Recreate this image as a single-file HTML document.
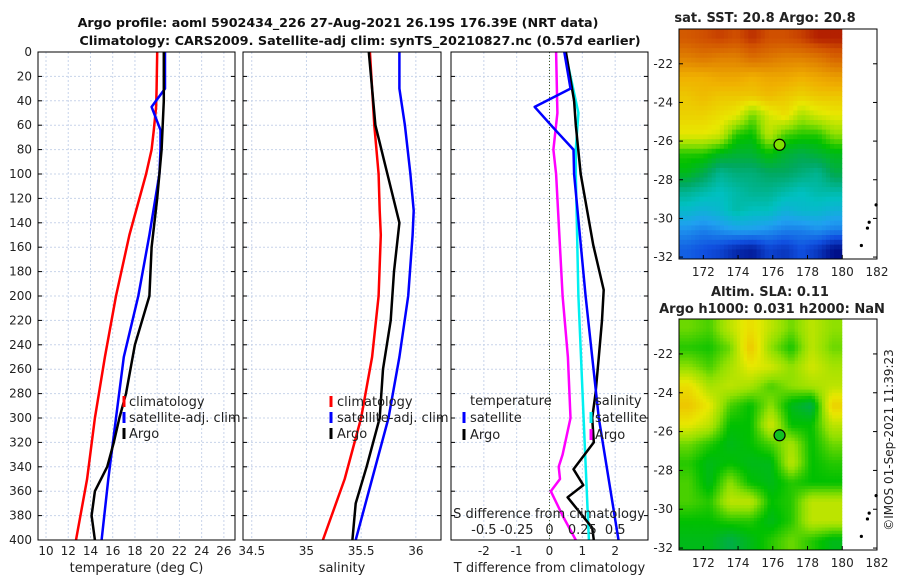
<!DOCTYPE html>
<html><head><meta charset="utf-8">
<style>
body{margin:0;background:#fff;}
svg{display:block;font-family:"DejaVu Sans","Liberation Sans",sans-serif;}
</style></head>
<body>
<svg id="c" width="900" height="580" viewBox="0 0 900 580"></svg>
<script>
// ---- data ----
const depthsT=[0,30,45,64,80,100,150,200,250,300,350,400];
const climT=[20.0,19.95,19.9,19.7,19.5,19.0,17.5,16.3,15.3,14.4,13.7,12.7];
const satT=[20.7,20.7,19.5,20.3,20.3,20.2,19.3,18.3,17.0,16.3,15.6,15.0];
const argoDepths=[0,40,80,120,160,200,240,280,300,320,340,360,380,400];
const argoT=[20.6,20.6,20.4,20.0,19.5,19.3,18.0,17.2,16.6,16.1,15.5,14.4,14.1,14.4];
const depthsS=[0,30,60,100,130,150,200,250,300,350,400];
const climS=[35.58,35.6,35.62,35.66,35.67,35.68,35.66,35.6,35.5,35.35,35.15];
const satS=[35.85,35.85,35.9,35.95,35.98,35.97,35.93,35.85,35.75,35.6,35.45];
const argoSDepths=[0,30,60,100,140,180,220,260,300,340,370,400];
const argoS=[35.57,35.6,35.63,35.74,35.85,35.8,35.77,35.7,35.67,35.55,35.45,35.42];
const dTdepths=[0,30,45,64,80,100,200,300,400];
const satDT=[0.45,0.64,-0.45,0.18,0.73,0.75,1.1,1.5,2.1];
const argoDTdepths=[0,40,60,100,158,195,220,250,280,300,320,342,355,365,390,400];
const argoDT=[0.5,0.75,0.8,0.95,1.33,1.65,1.6,1.5,1.4,1.3,1.35,0.73,1.03,0.55,1.3,1.35];
const dSdepths=[0,50,80,100,200,300,400];
const satDS=[0.12,0.22,0.2,0.2,0.22,0.26,0.3];
const argoDSdepths=[0,50,80,100,200,250,300,330,340,350,360,380,400];
const argoDS=[0.05,0.06,0.03,0.05,0.1,0.14,0.16,0.1,0.07,0.08,0.01,0.1,0.2];
const depthTicks=[0,20,40,60,80,100,120,140,160,180,200,220,240,260,280,300,320,340,360,380,400];
const tTicks=[10,12,14,16,18,20,22,24,26];
const sTicks=[34.5,35,35.5,36];
const sTickLabels=["34.5","35","35.5","36"];
const dtTicks=[-2,-1,0,1,2];
const dsTicks=[-0.5,-0.25,0,0.25,0.5];
const dsTickLabels=["-0.5","-0.25","0","0.25","0.5"];
const lonTicks=[172,174,176,178,180,182];
const latTicks=[-22,-24,-26,-28,-30,-32];
const sstGrid=[
[22.4,22.5,22.6,22.5,22.7,22.5,22.5,22.6,22.8,22.8],
[22.0,22.1,22.0,22.0,22.2,22.1,22.0,22.0,22.1,22.3],
[21.5,21.5,21.6,21.6,21.5,21.6,21.6,21.5,21.6,21.7],
[21.3,21.4,21.3,21.3,21.3,21.4,21.3,21.2,21.3,21.3],
[21.2,21.2,21.1,21.0,20.5,20.9,21.1,20.7,20.9,21.0],
[21.0,21.0,20.9,20.3,20.2,20.8,20.4,20.3,20.3,20.6],
[20.3,20.3,20.1,20.0,20.0,20.2,20.0,19.9,20.0,20.1],
[20.1,19.9,19.6,19.7,19.7,19.8,19.8,19.7,19.6,19.9],
[19.6,19.5,19.4,19.5,19.6,19.6,19.5,19.4,19.5,19.5],
[19.3,19.2,19.3,19.5,19.4,19.4,19.2,19.3,19.3,19.2],
[18.9,18.8,18.9,19.0,19.0,18.9,18.8,18.8,18.9,18.8],
[18.6,18.5,18.4,18.2,18.1,18.4,18.3,18.5,18.3,18.0]];
const slaGrid=[
[20.5,20.4,20.8,21.1,20.8,20.5,20.8,20.6],
[20.3,20.25,20.5,21.3,20.6,20.25,20.8,20.5],
[20.6,20.4,20.7,21.0,20.9,20.6,20.9,20.7],
[21.1,20.7,20.8,20.7,20.4,20.6,20.7,20.8],
[21.3,21.0,20.4,20.2,20.6,20.1,19.9,21.2],
[21.0,20.8,20.2,20.2,20.9,20.2,20.2,20.8],
[20.5,20.3,20.1,20.2,20.4,20.7,20.2,20.5],
[20.3,20.1,20.2,20.1,20.1,20.8,20.2,20.3],
[20.4,20.1,20.6,20.2,20.1,20.3,20.2,20.2],
[20.4,20.3,20.8,20.8,20.2,20.3,20.8,20.8],
[20.2,20.2,20.3,20.3,20.1,20.3,20.8,20.8],
[20.1,20.1,19.9,20.1,20.3,20.5,20.3,20.1]];

const NS="http://www.w3.org/2000/svg";
const svg=document.getElementById('c');
function el(tag,attrs,parent,txt){const e=document.createElementNS(NS,tag);for(const k in attrs)e.setAttribute(k,attrs[k]);if(txt!==undefined)e.textContent=txt;(parent||svg).appendChild(e);return e;}
const Y0=52,Y1=540;
const yD=d=>Y0+d*(Y1-Y0)/400;
function axX(a,b,l,r){return v=>l+(v-a)*(r-l)/(b-a);}
function panel(name){
  const g=el('g',{},svg);
  return g;}
function grid(g,l,r,xs,xf){
  for(const d of depthTicks){el('line',{x1:l,x2:r,y1:yD(d),y2:yD(d),stroke:'#c8d4ea','stroke-dasharray':'2,2','stroke-width':1},g);}
  for(const v of xs){el('line',{x1:xf(v),x2:xf(v),y1:Y0,y2:Y1,stroke:'#c8d4ea','stroke-dasharray':'2,2','stroke-width':1},g);}
}
function frame(g,l,r){el('rect',{x:l,y:Y0,width:r-l,height:Y1-Y0,fill:'none',stroke:'#000','stroke-width':1},g);
  for(const d of depthTicks){el('line',{x1:l,x2:l+4,y1:yD(d),y2:yD(d),stroke:'#000'},g);el('line',{x1:r-4,x2:r,y1:yD(d),y2:yD(d),stroke:'#000'},g);}}
function line(g,xs,ds,xf,col,name,w){
  const p=xs.map((v,i)=>xf(v).toFixed(1)+','+yD(ds[i]).toFixed(1)).join(' ');
  const e=el('polyline',{points:p,fill:'none',stroke:col,'stroke-width':w||2.5,'stroke-linejoin':'round'},g);
  }
function txt(g,x,y,s,opts){return el('text',Object.assign({x:x,y:y,'font-size':12,fill:'#222'},opts||{}),g,s);}

// titles
const t1=txt(svg,338,27,'Argo profile: aoml 5902434_226 27-Aug-2021 26.19S 176.39E (NRT data)',{'text-anchor':'middle','font-weight':'bold','font-size':12.7,fill:'#111'});

const t2=txt(svg,360,45,'Climatology: CARS2009. Satellite-adj clim: synTS_20210827.nc (0.57d earlier)',{'text-anchor':'middle','font-weight':'bold','font-size':12.8,fill:'#111'});


// panel 1
{const l=38,r=235,xf=axX(9.28,27,l,r);const g=panel('temperature-panel');
grid(g,l,r,tTicks,xf);
line(g,climT,depthsT,xf,'#f00','climatology-temp-line');
line(g,satT,depthsT,xf,'#00f','satellite-temp-line');
line(g,argoT,argoDepths,xf,'#000','argo-temp-line');
frame(g,l,r);
for(const d of depthTicks)txt(g,l-6,yD(d)+4,String(d),{'text-anchor':'end'});
for(const v of tTicks)txt(g,xf(v),555,String(v),{'text-anchor':'middle'});
txt(g,(l+r)/2,572,'temperature (deg C)',{'text-anchor':'middle','font-size':13});
const lg=el('g',{},g);
[['climatology','#f00'],['satellite-adj. clim','#00f'],['Argo','#000']].forEach((e,i)=>{const y=402+i*16;
 el('line',{x1:124,x2:124,y1:y-6,y2:y+5,stroke:e[1],'stroke-width':3},lg);txt(lg,129,y+4,e[0],{'font-size':13});});}

// panel 2
{const l=243,r=441,xf=axX(34.42,36.23,l,r);const g=panel('salinity-panel');
grid(g,l,r,sTicks,xf);
line(g,climS,depthsS,xf,'#f00','climatology-sal-line');
line(g,satS,depthsS,xf,'#00f','satellite-sal-line');
line(g,argoS,argoSDepths,xf,'#000','argo-sal-line');
frame(g,l,r);
sTicks.forEach((v,i)=>txt(g,xf(v),555,sTickLabels[i],{'text-anchor':'middle'}));
txt(g,(l+r)/2,572,'salinity',{'text-anchor':'middle','font-size':13});
const lg=el('g',{},g);
[['climatology','#f00'],['satellite-adj. clim','#00f'],['Argo','#000']].forEach((e,i)=>{const y=402+i*16;
 el('line',{x1:331,x2:331,y1:y-6,y2:y+5,stroke:e[1],'stroke-width':3},lg);txt(lg,337,y+4,e[0],{'font-size':13});});}

// panel 3
{const l=451,r=648,xf=axX(-3,3,l,r),sf=axX(-0.75,0.75,l,r);const g=panel('difference-panel');
grid(g,l,r,dtTicks,xf);
el('line',{x1:xf(0),x2:xf(0),y1:Y0,y2:Y1,stroke:'#445522','stroke-dasharray':'1,2'},g);
line(g,argoDS,argoDSdepths,sf,'#f0f','argo-sal-diff-line');
line(g,satDS,dSdepths,sf,'#00f0f0','satellite-sal-diff-line');
line(g,argoDT,argoDTdepths,xf,'#000','argo-temp-diff-line');
line(g,satDT,dTdepths,xf,'#00f','satellite-temp-diff-line');
frame(g,l,r);
dtTicks.forEach(v=>txt(g,xf(v),555,String(v),{'text-anchor':'middle'}));
txt(g,(l+r)/2,572,'T difference from climatology',{'text-anchor':'middle','font-size':13});
txt(g,549,518,'S difference from climatology',{'text-anchor':'middle','font-size':13});
dsTicks.forEach((v,i)=>txt(g,sf(v),534,dsTickLabels[i],{'text-anchor':'middle','font-size':13}));
const lg=el('g',{},g);
txt(lg,470,405,'temperature',{'font-size':13});txt(lg,595,405,'salinity',{'font-size':13});
[['satellite','#00f','#00f0f0'],['Argo','#000','#f0f']].forEach((e,i)=>{const y=418+i*17;
 el('line',{x1:464,x2:464,y1:y-6,y2:y+5,stroke:e[1],'stroke-width':3},lg);txt(lg,470,y+4,e[0],{'font-size':13});
 el('line',{x1:591,x2:591,y1:y-6,y2:y+5,stroke:e[2],'stroke-width':3},lg);txt(lg,595,y+4,e[0],{'font-size':13});});}

// maps
const sstStops=[[18.0,[0,16,138]],[18.5,[16,80,224]],[19.0,[32,160,240]],[19.4,[0,192,192]],[19.8,[0,168,96]],[20.2,[0,192,0]],[20.6,[144,224,0]],[21.0,[232,232,0]],[21.5,[240,176,0]],[22.0,[224,128,0]],[22.5,[208,80,0]],[23.0,[160,0,0]]];
function sstCol(v){if(v<=sstStops[0][0])return sstStops[0][1];for(let i=1;i<sstStops.length;i++){if(v<=sstStops[i][0]){const a=sstStops[i-1],b=sstStops[i],t=(v-a[0])/(b[0]-a[0]);return a[1].map((c,k)=>Math.round(c+(b[1][k]-c)*t));}}return sstStops[sstStops.length-1][1];}
function map(name,top,bottom,gridArr,colf,sub,pointColor){
  const l=679,r=877,lonf=axX(170.6,182.0,l,r),latf=v=>top+(-20.2-v)*(bottom-top)/(-20.2+32.1);
  const g=el('g',{},svg);
  const clip='clip'+name;const cp=el('clipPath',{id:clip},g);el('rect',{x:l,y:top,width:lonf(180)-l,height:bottom-top},cp);
  const ig=el('g',{'clip-path':'url(#'+clip+')'},g);
  const nr=gridArr.length,nc=gridArr[0].length;
  const cw=(lonf(180)-l)/nc,ch=(bottom-top)/nr;
  for(let i=0;i<nr*sub;i++)for(let j=0;j<nc*sub;j++){
    const fi=Math.min(nr-1.001,Math.max(0,(i+0.5)/sub-0.5)),fj=Math.min(nc-1.001,Math.max(0,(j+0.5)/sub-0.5));
    const i0=Math.floor(fi),j0=Math.floor(fj),di=fi-i0,dj=fj-j0;
    const v=gridArr[i0][j0]*(1-di)*(1-dj)+gridArr[i0+1][j0]*di*(1-dj)+gridArr[i0][j0+1]*(1-di)*dj+gridArr[i0+1][j0+1]*di*dj;
    const c=colf(v);
    el('rect',{x:(l+j*cw/sub).toFixed(2),y:(top+i*ch/sub).toFixed(2),width:(cw/sub+0.6).toFixed(2),height:(ch/sub+0.6).toFixed(2),fill:'rgb('+c.join(',')+')'},ig);}
  el('rect',{x:l,y:top,width:r-l,height:bottom-top,fill:'none',stroke:'#000'},g);
  for(const v of lonTicks){el('line',{x1:lonf(v),x2:lonf(v),y1:bottom-4,y2:bottom,stroke:'#000'},g);txt(g,lonf(v),bottom+17,String(v),{'text-anchor':'middle'});}
  for(const v of latTicks){el('line',{x1:l,x2:l+4,y1:latf(v),y2:latf(v),stroke:'#000'},g);el('line',{x1:r-4,x2:r,y1:latf(v),y2:latf(v),stroke:'#000'},g);txt(g,l-6,latf(v)+4,String(v),{'text-anchor':'end'});}
  [[181.95,-29.3],[181.55,-30.2],[181.45,-30.5],[181.1,-31.4]].forEach(p=>el('circle',{cx:lonf(p[0]),cy:latf(p[1]),r:1.6,fill:'#000'},g));
  const pt=el('circle',{cx:lonf(176.39),cy:latf(-26.19),r:5.5,fill:pointColor,stroke:'#000','stroke-width':1.2},g);
  
}
map('sst-map',29,259,sstGrid,sstCol,4,'#80e000');
map('sla-map',319,550,slaGrid,sstCol,6,'#10c020');
const mt=txt(svg,765,22,'sat. SST: 20.8 Argo: 20.8',{'text-anchor':'middle','font-weight':'bold','font-size':13});

const m2=txt(svg,770,296,'Altim. SLA: 0.11',{'text-anchor':'middle','font-weight':'bold','font-size':13});

const m3=txt(svg,772,313,'Argo h1000: 0.031 h2000: NaN',{'text-anchor':'middle','font-weight':'bold','font-size':13});

const cr=txt(svg,0,0,'©IMOS 01-Sep-2021 11:39:23',{'text-anchor':'middle','font-size':12,transform:'translate(893,440) rotate(-90)'});

</script>
</body></html>
